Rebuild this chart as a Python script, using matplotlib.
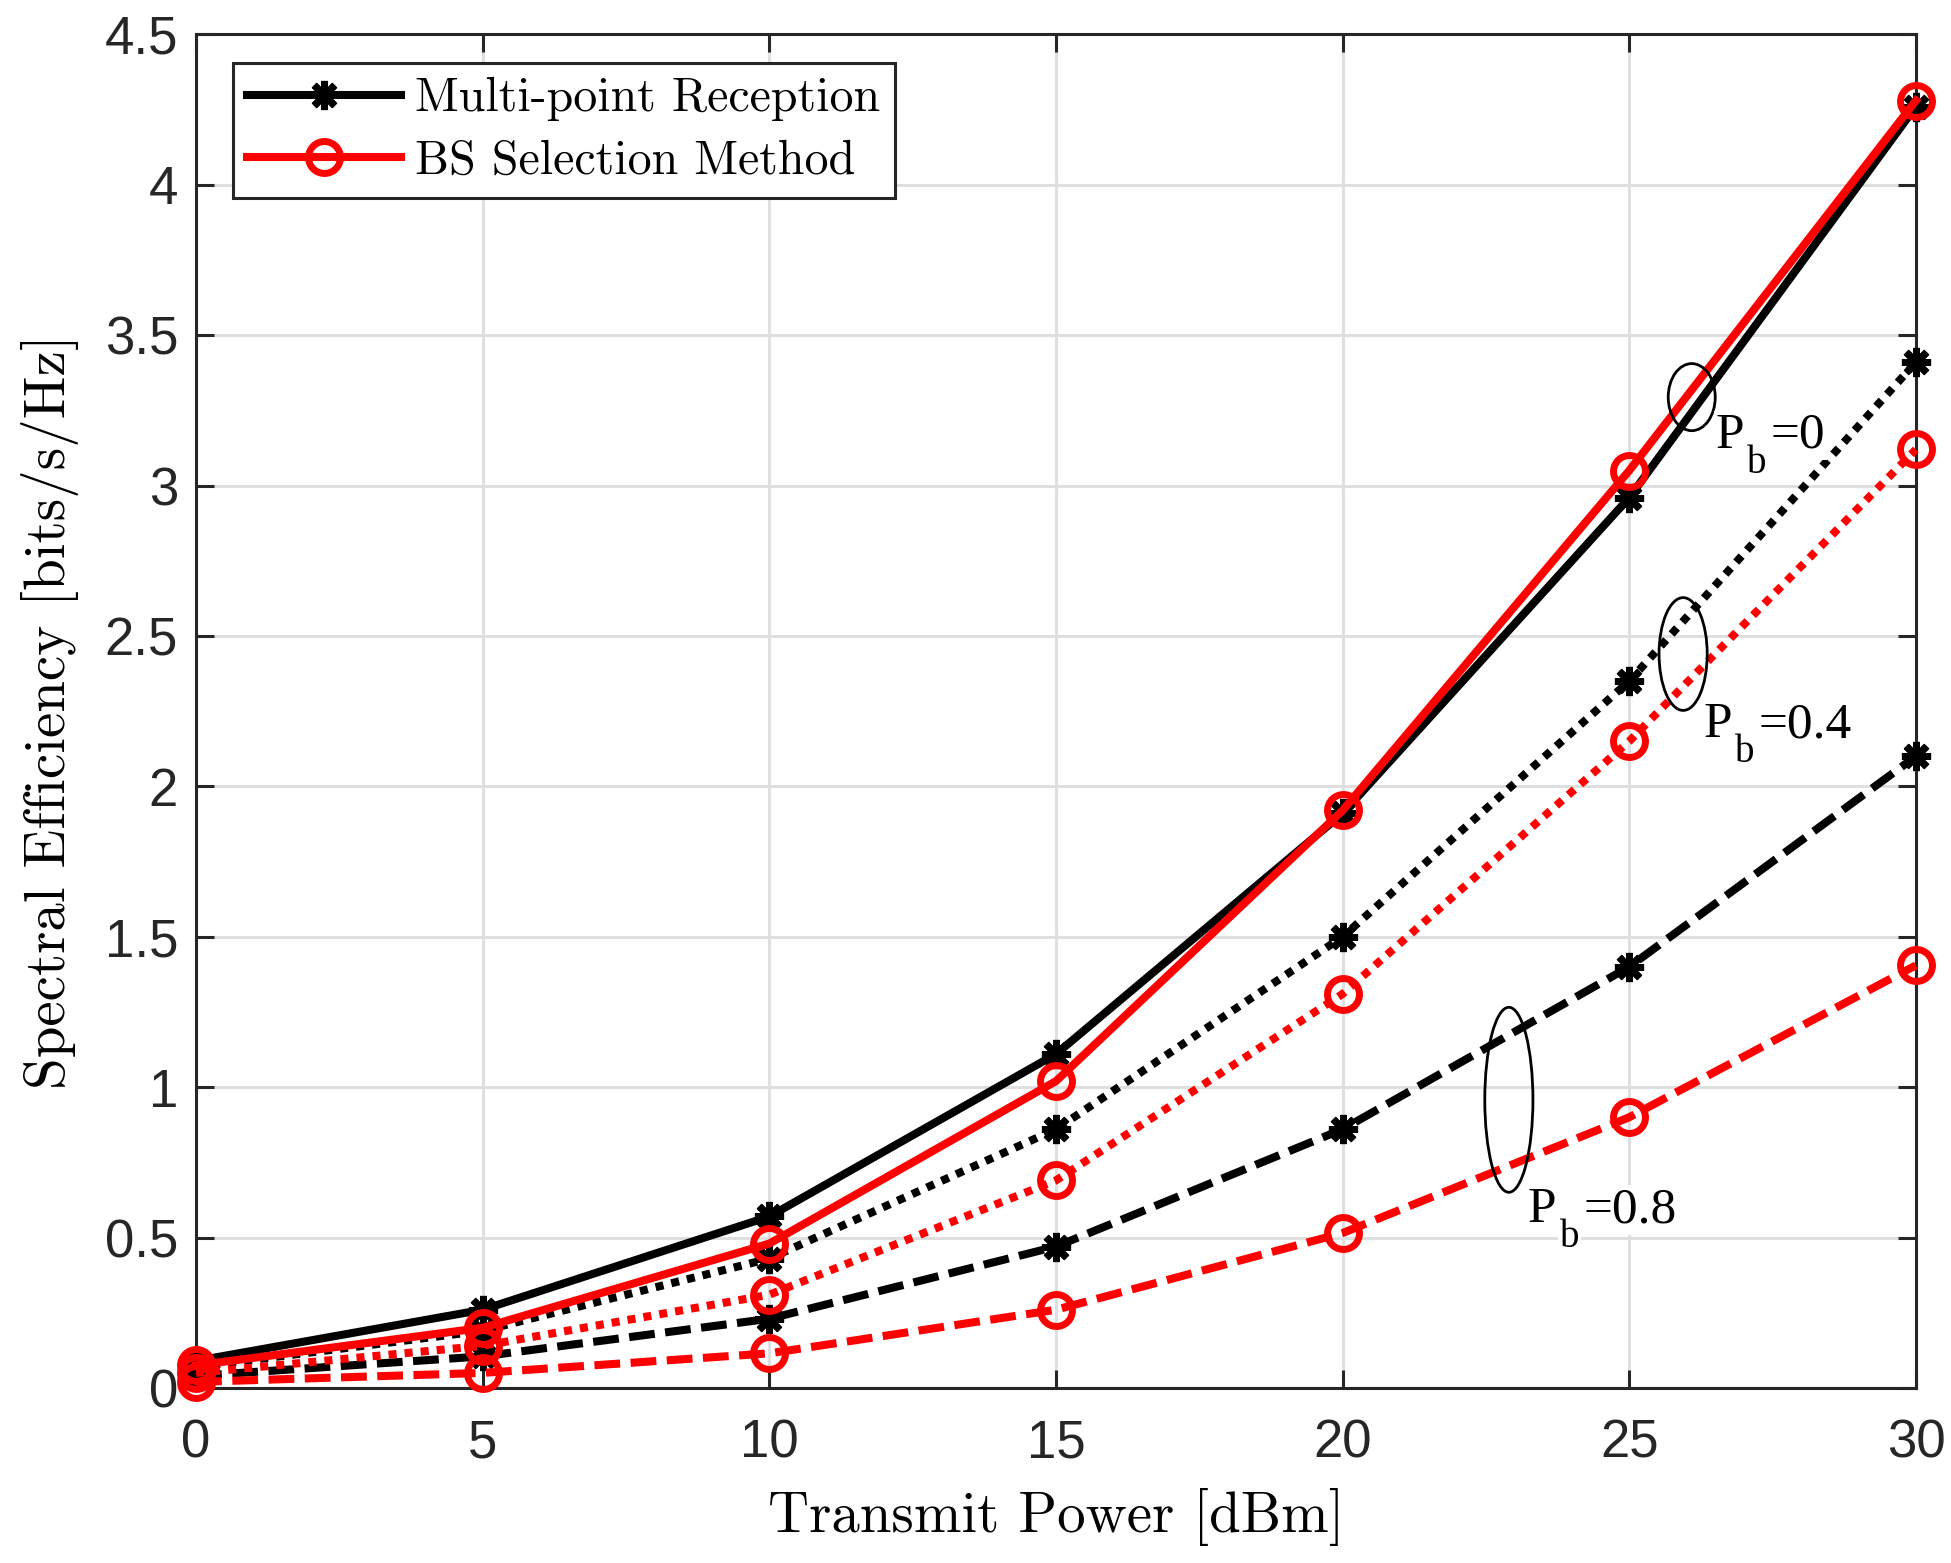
import matplotlib
matplotlib.use('Agg')
import matplotlib.pyplot as plt
from matplotlib.patches import Ellipse
from matplotlib.ticker import FormatStrFormatter, MultipleLocator

# 数据
power_dbm = [0, 5, 10, 15, 20, 25, 30]

multi_pb0 = [0.09, 0.26, 0.57, 1.11, 1.91, 2.96, 4.26]
bs_pb0 = [0.075, 0.20, 0.48, 1.02, 1.92, 3.05, 4.28]
multi_pb04 = [0.07, 0.19, 0.43, 0.86, 1.50, 2.35, 3.41]
bs_pb04 = [0.05, 0.14, 0.31, 0.69, 1.31, 2.15, 3.12]
multi_pb08 = [0.04, 0.105, 0.23, 0.47, 0.86, 1.40, 2.10]
bs_pb08 = [0.02, 0.05, 0.115, 0.26, 0.515, 0.90, 1.405]

legend_labels = ['Multi-point Reception', 'BS Selection Method']
pb_labels = ['=0', '=0.4', '=0.8']

fig = plt.figure(figsize=(19.51, 15.63), dpi=100)
ax = fig.add_axes([0.1005, 0.112, 0.8815, 0.866])

star = (8, 2, 0)
lw = 5.8
black_kw = dict(color='black', marker=star, markersize=21, markeredgewidth=5,
                linewidth=lw, clip_on=False)
red_kw = dict(color='red', marker='o', markersize=23, markeredgewidth=5,
              markerfacecolor='none', linewidth=lw, clip_on=False)
dotted = (0, (1, 1))
dashed = (0, (3.2, 1.3))

# 三组曲线：Pb=0 实线，Pb=0.4 点线，Pb=0.8 虚线
ax.plot(power_dbm, multi_pb0, linestyle='-', label=legend_labels[0], zorder=3, **black_kw)
ax.plot(power_dbm, bs_pb0, linestyle='-', label=legend_labels[1], zorder=4, **red_kw)
ax.plot(power_dbm, multi_pb04, linestyle=dotted, zorder=3, **black_kw)
ax.plot(power_dbm, bs_pb04, linestyle=dotted, zorder=4, **red_kw)
ax.plot(power_dbm, multi_pb08, linestyle=dashed, zorder=3, **black_kw)
ax.plot(power_dbm, bs_pb08, linestyle=dashed, zorder=4, **red_kw)

ax.set_xlim(0, 30)
ax.set_ylim(0, 4.5)
ax.xaxis.set_major_locator(MultipleLocator(5))
ax.yaxis.set_major_locator(MultipleLocator(0.5))
ax.yaxis.set_major_formatter(FormatStrFormatter('%g'))

ax.grid(True, color='#dfdfdf', linewidth=2.2)
ax.set_axisbelow(True)
for sp in ax.spines.values():
    sp.set_linewidth(2.2)
    sp.set_color('#262626')
ax.tick_params(direction='in', length=13, width=2.2, colors='#262626',
               top=True, right=True, labelsize=38, pad=13)
ax.tick_params(axis='x', pad=22)
for lab in ax.get_xticklabels() + ax.get_yticklabels():
    lab.set_fontfamily('Liberation Sans')

ax.set_xlabel('Transmit Power [dBm]', fontfamily='cmr10', fontsize=41)
ax.set_ylabel('Spectral Efficiency [bits/s/Hz]', fontfamily='cmr10', fontsize=41)
ax.xaxis.set_label_coords(0.5, -0.074)
ax.yaxis.set_label_coords(-0.068, 0.5)
ax.xaxis.label.set_va('top')

leg = ax.legend(loc='upper left', bbox_to_anchor=(0.0215, 0.979), borderaxespad=0,
                prop={'family': 'cmr10', 'size': 34.5}, fancybox=False, framealpha=1,
                edgecolor='#262626', handlelength=3.2, borderpad=0.3, labelspacing=0.38,
                handletextpad=0.3)
leg.get_frame().set_linewidth(2.2)

# 椭圆标注
ellipses = [(26.09, 3.294, 0.82, 0.223), (25.94, 2.44, 0.84, 0.375), (22.90, 0.958, 0.84, 0.615)]
for cx, cy, w, h in ellipses:
    ax.add_patch(Ellipse((cx, cy), w, h, fill=False, edgecolor='black', linewidth=2.0, zorder=6))

# P_b 文字：P、下标 b、=值 分开画，模仿 MATLAB 的下标位置
text_pos = [(26.50, 3.126), (26.29, 2.163), (23.23, 0.551)]
box = dict(facecolor='white', edgecolor='none', pad=1)
for (tx, ty), pb in zip(text_pos, pb_labels):
    ax.text(tx, ty, 'P', fontfamily='Liberation Serif', fontsize=37,
            ha='left', va='baseline', zorder=7, bbox=box)
    ax.annotate('b', (tx, ty), xytext=(23, -18), textcoords='offset points',
                fontfamily='Liberation Serif', fontsize=28, ha='left', va='baseline',
                zorder=7, bbox=box)
    ax.annotate(pb, (tx, ty), xytext=(40, 0), textcoords='offset points',
                fontfamily='Liberation Serif', fontsize=37, ha='left', va='baseline',
                zorder=7, bbox=box)

fig.savefig('out.png', dpi=100)
